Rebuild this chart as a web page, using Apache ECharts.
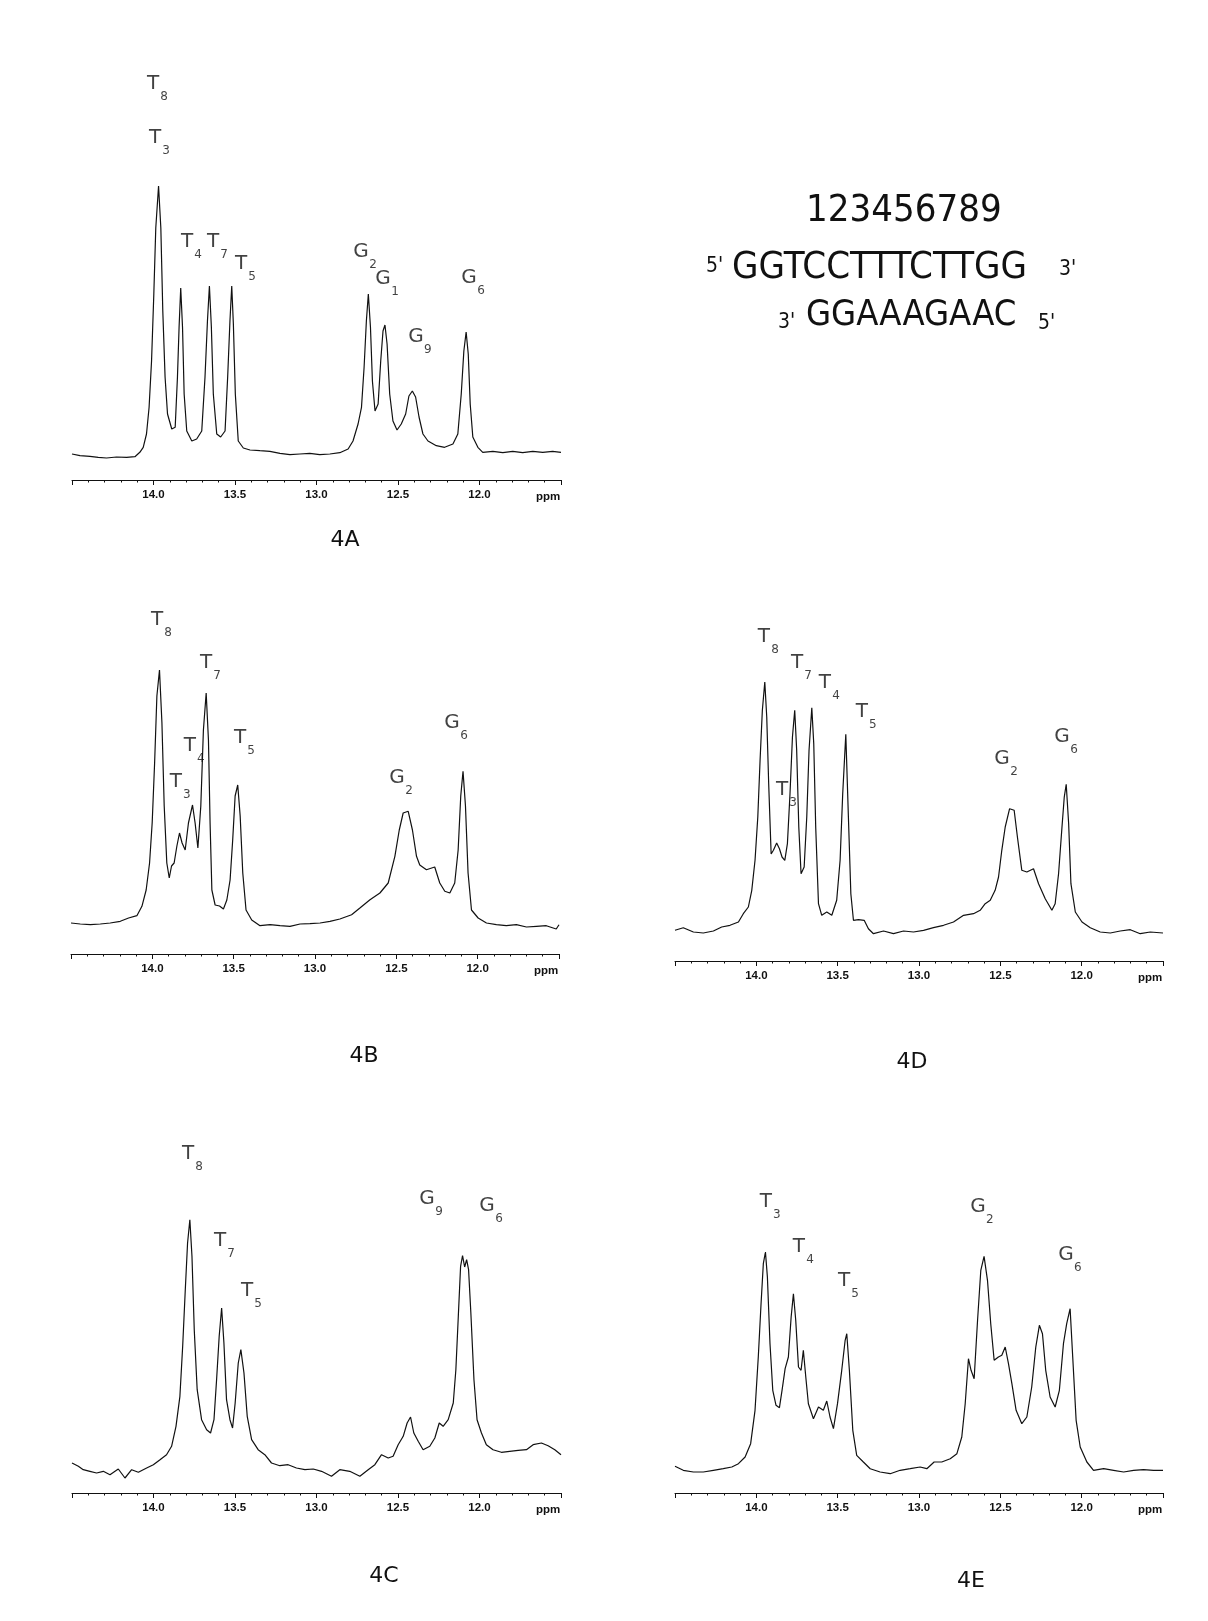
<!DOCTYPE html>
<html>
<head>
<meta charset="utf-8">
<title>Imino proton NMR spectra 4A-4E</title>
<script src="https://cdn.jsdelivr.net/npm/echarts@6/dist/echarts.min.js"></script>
<style>
  html, body { margin: 0; padding: 0; background: #fff; }
  #main { width: 1208px; height: 1621px; }
</style>
</head>
<body>
<div id="main"></div>
<script>
// imino region traces, [ppm, intensity] (intensity in arbitrary units above the axis line)
var spec4A = [
  [14.500,26],[14.451,24.3],[14.390,23.7],[14.339,22.7],[14.288,22],[14.227,23],[14.165,22.7],[14.114,23.3],
  [14.084,27.7],[14.063,32.7],[14.043,46],[14.027,72.7],[14.012,119],[13.998,186],[13.986,252],[13.969,294],
  [13.955,252],[13.943,169],[13.929,103],[13.914,66],[13.888,51],[13.867,52.7],[13.853,103],[13.843,153],
  [13.833,192],[13.822,153],[13.812,86],[13.796,49],[13.765,39],[13.735,41],[13.704,49],[13.684,103],
  [13.669,159],[13.657,194],[13.645,153],[13.633,86],[13.612,46],[13.588,43],[13.561,49],[13.545,103],
  [13.531,159],[13.520,194],[13.510,156],[13.498,86],[13.480,39],[13.449,32],[13.408,30],[13.347,29.3],
  [13.286,28.7],[13.224,26.7],[13.163,25.3],[13.102,26],[13.041,26.7],[12.980,25.3],[12.918,26],[12.857,27.3],
  [12.806,31],[12.776,39],[12.745,56],[12.724,72.7],[12.708,112.7],[12.694,159],[12.682,186],[12.669,153],
  [12.657,99],[12.641,69],[12.622,76],[12.606,119],[12.592,149],[12.580,155],[12.567,136],[12.551,86],
  [12.531,59],[12.506,50],[12.480,56],[12.453,66],[12.433,84],[12.412,89],[12.392,83],[12.371,63],
  [12.347,46],[12.316,39],[12.265,34.3],[12.214,32.7],[12.163,36],[12.133,46],[12.112,86],[12.096,129],
  [12.082,148],[12.069,126],[12.057,76],[12.041,43],[12.010,32.7],[11.980,27.7],[11.918,28.7],[11.857,27.3],
  [11.796,28.7],[11.735,27.3],[11.673,28.7],[11.612,27.7],[11.551,28.7],[11.500,27.7]
];
var spec4B = [
  [14.500,31],[14.443,30],[14.381,29.3],[14.320,30],[14.259,31],[14.197,32.7],[14.146,36],[14.095,38.3],
  [14.064,47.7],[14.038,64],[14.017,91],[14.001,131],[13.986,191],[13.972,258],[13.956,284],[13.941,231],
  [13.927,148],[13.911,91],[13.896,76],[13.882,88],[13.866,91],[13.849,108],[13.833,121],[13.817,111],
  [13.798,104],[13.778,131],[13.753,149],[13.737,131],[13.720,106],[13.702,148],[13.686,224],[13.669,261],
  [13.655,214],[13.645,131],[13.634,64],[13.614,49],[13.587,48],[13.563,45],[13.542,54],[13.522,74],
  [13.506,114],[13.491,158],[13.475,169],[13.460,138],[13.444,81],[13.424,44],[13.389,34],[13.338,28.3],
  [13.276,29.3],[13.215,28.3],[13.154,27.7],[13.092,30],[13.031,30.3],[12.969,31],[12.908,32.7],[12.847,35],
  [12.775,39.3],[12.724,46],[12.662,54.3],[12.601,61],[12.550,71],[12.509,97.7],[12.482,124],[12.458,141],
  [12.427,142.7],[12.401,124],[12.376,97.7],[12.356,89],[12.315,84.3],[12.264,87],[12.233,71],[12.202,62.7],
  [12.171,61],[12.141,71],[12.120,104],[12.104,158],[12.090,182.7],[12.075,148],[12.059,81],[12.038,44],
  [11.997,36],[11.946,31],[11.885,29.3],[11.824,28.3],[11.762,29.3],[11.700,27],[11.639,27.7],[11.578,28.3],
  [11.517,25],[11.500,29.3]
];
var spec4D = [
  [14.500,30.7],[14.449,33.3],[14.387,29],[14.326,28],[14.264,30],[14.213,34],[14.162,35.7],[14.110,39],
  [14.080,47.3],[14.049,54],[14.028,70.7],[14.008,100.7],[13.991,144],[13.977,200.7],[13.963,250.7],[13.948,279],
  [13.936,244],[13.924,177],[13.909,107],[13.895,110.7],[13.875,118],[13.858,112.3],[13.842,104],[13.825,100.7],
  [13.809,117.3],[13.793,167.3],[13.778,224],[13.764,250.7],[13.752,210.7],[13.739,134],[13.725,87.3],[13.706,94],
  [13.690,144],[13.676,210.7],[13.659,253.3],[13.647,217.3],[13.635,134],[13.618,57.3],[13.598,45.7],[13.567,49],
  [13.536,45.7],[13.506,60.7],[13.485,100.7],[13.469,167.3],[13.450,226.7],[13.434,144],[13.419,67.3],[13.403,40.7],
  [13.372,41.3],[13.337,40.7],[13.311,32.3],[13.280,27.3],[13.218,30],[13.157,27.3],[13.095,30],[13.034,29],
  [12.972,30.7],[12.911,33.3],[12.849,35.7],[12.788,39],[12.726,45.7],[12.665,47.3],[12.624,50.7],[12.593,57.3],
  [12.562,60.7],[12.532,70.7],[12.511,84],[12.491,110.7],[12.470,134],[12.443,152.3],[12.415,150.7],[12.395,124],
  [12.368,90.7],[12.337,89],[12.296,92.3],[12.265,77.3],[12.224,62.3],[12.183,50.7],[12.163,57.3],[12.142,87.3],
  [12.121,134],[12.107,164],[12.095,176.7],[12.080,137.3],[12.066,77.3],[12.039,49],[11.998,39],[11.947,33.3],
  [11.886,29],[11.824,28],[11.763,30],[11.701,31.3],[11.640,27.3],[11.578,29],[11.500,28]
];
var spec4C = [
  [14.500,30],[14.461,26.7],[14.431,23.3],[14.390,21.7],[14.349,20],[14.308,21.7],[14.267,18.3],[14.216,24],
  [14.175,15],[14.134,23.3],[14.093,20.7],[14.042,25],[14.001,28.3],[13.960,33.3],[13.920,38.3],[13.889,46.7],
  [13.862,66.7],[13.838,96.7],[13.821,146.7],[13.805,203.3],[13.791,250],[13.777,273.3],[13.764,236.7],[13.750,163.3],
  [13.732,103.3],[13.705,73.3],[13.674,63.3],[13.650,60],[13.629,73.3],[13.613,113.3],[13.597,156.7],[13.582,185],
  [13.568,150],[13.552,93.3],[13.531,73.3],[13.515,65],[13.499,90],[13.480,130],[13.464,143.3],[13.445,120],
  [13.425,76.7],[13.398,53.3],[13.358,43.3],[13.317,38.3],[13.276,30],[13.225,27.3],[13.174,28.3],[13.123,25],
  [13.071,23.3],[13.020,24],[12.969,21.7],[12.908,16.7],[12.857,23.3],[12.796,21.7],[12.734,16.7],[12.683,23.3],
  [12.642,28.3],[12.601,38.3],[12.560,35],[12.530,36.7],[12.499,48.3],[12.468,56.7],[12.444,70],[12.423,76],
  [12.403,60],[12.376,51.7],[12.346,43.3],[12.305,46.7],[12.274,55],[12.247,70],[12.223,66.7],[12.192,73.3],
  [12.161,90],[12.145,123.3],[12.130,176.7],[12.116,226.7],[12.104,237.3],[12.091,226],[12.079,233.3],[12.067,223.3],
  [12.053,180],[12.034,113.3],[12.015,73.3],[11.988,60],[11.958,48.3],[11.917,43.3],[11.866,40.7],[11.815,41.7],
  [11.763,42.7],[11.712,43.3],[11.671,48.3],[11.620,50],[11.579,47.3],[11.538,43.3],[11.500,38.3]
];
var spec4E = [
  [14.500,26.7],[14.449,22.7],[14.387,21],[14.326,21],[14.264,22.7],[14.203,24.3],[14.151,26],[14.110,29.3],
  [14.069,36],[14.035,49.3],[14.008,82.7],[13.988,136],[13.971,189.3],[13.957,229.3],[13.944,241],[13.932,216],
  [13.916,149.3],[13.899,102.7],[13.879,87.7],[13.858,85.3],[13.842,102.7],[13.823,124.3],[13.803,136],[13.786,176],
  [13.772,199.3],[13.758,173.3],[13.741,126],[13.725,122.7],[13.711,142.7],[13.696,116],[13.680,89.3],[13.649,74.3],
  [13.618,86],[13.588,82.7],[13.567,92],[13.547,76],[13.526,64.3],[13.501,89.3],[13.475,122.7],[13.454,152.7],
  [13.444,159.3],[13.428,122.7],[13.407,62.7],[13.383,37.7],[13.342,31],[13.300,24.3],[13.239,21],[13.177,19.3],
  [13.116,22.7],[13.054,24.3],[12.993,26],[12.952,24.3],[12.907,31],[12.860,31],[12.808,34.3],[12.767,39.3],
  [12.737,56],[12.716,89.3],[12.696,134.3],[12.680,122.7],[12.661,114.3],[12.640,172.7],[12.620,222.7],[12.600,236.7],
  [12.579,212.7],[12.559,169.3],[12.538,132.7],[12.512,136],[12.491,137.7],[12.470,146],[12.450,129.3],[12.429,109.3],
  [12.403,82.7],[12.368,69.3],[12.337,76],[12.307,106],[12.282,146],[12.260,167.7],[12.241,159.3],[12.221,122.7],
  [12.194,96],[12.163,86],[12.137,102.7],[12.112,149.3],[12.092,169.3],[12.071,184.3],[12.055,136],[12.034,72.7],
  [12.009,46],[11.968,31],[11.927,22.7],[11.865,24.3],[11.804,22.7],[11.742,21],[11.681,22.7],[11.620,23.3],
  [11.558,22.7],[11.500,22.7]
];

// peak assignments: [base, subscript, ppm, height]
var labels4A = [['T','8',14.003,396],['T','3',13.990,342],['T','4',13.794,238],['T','7',13.635,238],['T','5',13.463,216],
                ['G','2',12.727,228],['G','1',12.592,201],['G','9',12.390,143],['G','6',12.064,202]];
var labels4B = [['T','8',13.971,334],['T','7',13.670,291],['T','4',13.769,208],['T','3',13.855,172],['T','5',13.461,216],
                ['G','2',12.496,176],['G','6',12.158,231]];
var labels4D = [['T','8',13.953,324],['T','7',13.750,298],['T','4',13.578,278],['T','5',13.351,249],['T','3',13.842,171],
                ['G','2',12.490,202],['G','6',12.121,224]];
var labels4C = [['T','8',13.788,339],['T','7',13.592,252],['T','5',13.426,202],['G','9',12.322,294],['G','6',11.954,287]];
var labels4E = [['T','3',13.941,291],['T','4',13.738,246],['T','5',13.461,212],['G','2',12.638,286],['G','6',12.097,238]];

var seqNumbers = '123456789';
var strandTop = 'GGTCCTTTCTTGG';
var strandBottom = 'GGAAAGAAC';

var panels = [
  { name: '4A', data: spec4A, labels: labels4A, left: 72,  width: 489, axisY: 480,  cap: [345, 540] },
  { name: '4B', data: spec4B, labels: labels4B, left: 71,  width: 488, axisY: 954,  cap: [364, 1056] },
  { name: '4D', data: spec4D, labels: labels4D, left: 675, width: 488, axisY: 961,  cap: [912, 1062] },
  { name: '4C', data: spec4C, labels: labels4C, left: 72,  width: 489, axisY: 1493, cap: [384, 1576] },
  { name: '4E', data: spec4E, labels: labels4E, left: 675, width: 488, axisY: 1493, cap: [971, 1581] }
];

var H = 420;
var ink = '#111111';
var labelFont = 'DejaVu Sans';
var grids = [], xAxes = [], yAxes = [], series = [], graphics = [];

panels.forEach(function (p, i) {
  grids.push({ left: p.left, width: p.width, top: p.axisY - H, height: H });
  xAxes.push({
    gridIndex: i, type: 'value', inverse: true, min: 11.5, max: 14.5, interval: 0.5,
    axisLine: { show: true, onZero: false, lineStyle: { color: ink, width: 1 } },
    axisTick: { show: true, length: 5, lineStyle: { color: ink, width: 1 } },
    minorTick: { show: true, splitNumber: 5, length: 2.5, lineStyle: { color: ink, width: 1 } },
    splitLine: { show: false },
    axisLabel: {
      margin: 9, color: ink, fontFamily: 'Liberation Sans', fontWeight: 'bold', fontSize: 11.5,
      formatter: function (v) { return (v < 11.9 || v > 14.1) ? '' : v.toFixed(1); }
    }
  });
  yAxes.push({ gridIndex: i, type: 'value', min: 0, max: H, show: false });

  series.push({
    type: 'line', xAxisIndex: i, yAxisIndex: i, data: p.data,
    showSymbol: false, symbol: 'none', silent: true, z: 3,
    lineStyle: { color: ink, width: 1.2 }
  });
  series.push({
    type: 'scatter', xAxisIndex: i, yAxisIndex: i, symbolSize: 1, silent: true, z: 2,
    itemStyle: { color: 'rgba(0,0,0,0)' },
    data: p.labels.map(function (l) { return { value: [l[2], l[3]], name: l[0] }; }),
    label: { show: true, position: 'inside', formatter: '{b}', fontFamily: labelFont, fontSize: 20, color: ink }
  });
  series.push({
    type: 'scatter', xAxisIndex: i, yAxisIndex: i, symbolSize: 1, silent: true, z: 2,
    itemStyle: { color: 'rgba(0,0,0,0)' },
    data: p.labels.map(function (l) {
      return { value: [l[2], l[3]], name: l[1], label: { offset: [l[0] === 'G' ? 12 : 11, 13] } };
    }),
    label: { show: true, position: 'inside', formatter: '{b}', fontFamily: labelFont, fontSize: 12, color: ink }
  });

  graphics.push({
    type: 'text', left: p.left + p.width - 25, top: p.axisY + 11,
    style: { text: 'ppm', fontFamily: 'Liberation Sans', fontWeight: 'bold', fontSize: 11.5, fill: ink }
  });
  graphics.push({
    type: 'text', x: p.cap[0], y: p.cap[1],
    style: { text: p.name, fontFamily: labelFont, fontSize: 22, fill: ink, align: 'center', verticalAlign: 'middle' }
  });
});

var seqFont = "'DejaVu Sans Condensed', 'DejaVu Sans'";
function seqText(str, x, y, size) {
  return { type: 'text', x: x, y: y,
    style: { text: str, fontFamily: seqFont, fontSize: size, fill: ink, align: 'left', verticalAlign: 'middle' } };
}
graphics.push(seqText(seqNumbers, 806, 211, 38));
graphics.push(seqText("5'", 706, 267, 21));
graphics.push(seqText(strandTop, 732, 268, 38));
graphics.push(seqText("3'", 1059, 270, 21));
graphics.push(seqText("3'", 778, 323, 21));
graphics.push(seqText(strandBottom, 806, 316, 36));
graphics.push(seqText("5'", 1038, 324, 21));

var option = {
  backgroundColor: '#ffffff',
  animation: false,
  grid: grids,
  xAxis: xAxes,
  yAxis: yAxes,
  series: series,
  graphic: graphics
};

var myChart = echarts.init(document.getElementById('main'));
myChart.setOption(option, true);
</script>
</body>
</html>
